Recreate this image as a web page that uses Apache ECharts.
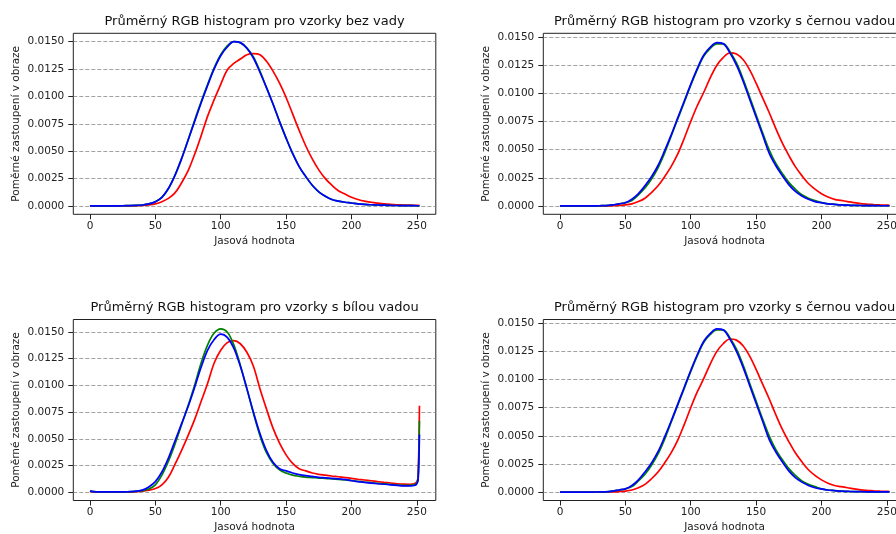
<!DOCTYPE html>
<html>
<head>
<meta charset="utf-8">
<title>Průměrný RGB histogram</title>
<script src="https://cdn.jsdelivr.net/npm/echarts@6/dist/echarts.min.js"></script>
<style>
html, body { margin: 0; padding: 0; background: #fff; }
#chart { width: 896px; height: 534px; }
</style>
</head>
<body>
<div id="chart"></div>
<script>
// jasove hodnoty
var xs = [0,5,10,15,20,25,30,35,40,45,50,55,60,65,70,75,80,85,90,95,100,105,110,115,120,125,130,135,140,145,
  150,155,160,165,170,175,180,185,190,195,200,205,210,215,220,225,230,235,240,245,250,252];
var xsBila = [0,5,10,15,20,25,30,35,40,45,50,55,60,65,70,75,80,85,90,95,100,105,110,115,120,125,130,135,140,145,
  150,155,160,165,170,175,180,185,190,195,200,205,210,215,220,225,230,235,240,245,248,250,251,252];
var xTicks = [0, 50, 100, 150, 200, 250];
var yTicks = [0, 0.0025, 0.005, 0.0075, 0.01, 0.0125, 0.015];

// vzorky bez vady
var redBez = [0.00002,0.00002,0.00002,0.00002,0.00002,0.00002,0.00002,0.00003,0.00005,0.0001,
  0.0002,0.0004,0.0007,0.0012,0.0021,0.0032,0.0047,0.0064,0.0082,0.0097,
  0.0111,0.0124,0.0130,0.0134,0.0138,0.0139,0.0138,0.0132,0.0123,0.0112,
  0.0099,0.0084,0.0069,0.0055,0.0043,0.0033,0.0025,0.0019,0.0014,0.0011,
  0.0008,0.0006,0.00045,0.00035,0.00027,0.0002,0.00015,0.00012,0.0001,0.00008,
  0.00006,0.00005];
var greenBez = [0.00002,0.00002,0.00002,0.00002,0.00002,0.00003,0.00004,0.00006,0.0001,0.0002,
  0.0004,0.0008,0.0016,0.0028,0.0043,0.0060,0.0078,0.0095,0.0111,0.0126,
  0.0138,0.0146,0.0150,0.0149,0.0144,0.0136,0.0123,0.0108,0.0093,0.0077,
  0.0062,0.0048,0.0036,0.0027,0.0019,0.0013,0.0009,0.0006,0.00045,0.00035,
  0.00028,0.0002,0.00015,0.00012,0.0001,0.00008,0.00006,0.00005,0.00004,0.00004,
  0.00003,0.00003];
var blueBez = [0.00002,0.00002,0.00002,0.00002,0.00002,0.00003,0.00004,0.00006,0.0001,0.0002,
  0.0004,0.0008,0.0016,0.0028,0.0043,0.0060,0.0077,0.0094,0.0110,0.0125,
  0.0137,0.0145,0.0150,0.0149,0.0144,0.0135,0.0122,0.0108,0.0093,0.0077,
  0.0062,0.0048,0.0036,0.0027,0.0019,0.0013,0.0009,0.0006,0.00045,0.00035,
  0.00028,0.0002,0.00015,0.00012,0.0001,0.00008,0.00006,0.00005,0.00004,0.00004,
  0.00003,0.00003];

// vzorky s cernou vadou
var redCerna = [0.00001,0.00001,0.00001,0.00001,0.00001,0.00001,0.00001,0.00001,0.00003,0.00006,
  0.0001,0.0002,0.0004,0.0007,0.0012,0.0018,0.0026,0.0035,0.0046,0.0060,
  0.0075,0.0089,0.0101,0.0114,0.0125,0.0132,0.0136,0.0135,0.0130,0.0121,
  0.0109,0.0096,0.0083,0.0069,0.0056,0.0045,0.0035,0.0027,0.0020,0.0015,
  0.0011,0.0008,0.0006,0.0005,0.0004,0.0003,0.00022,0.00017,0.00013,0.0001,
  0.00008,0.00007];
var greenCerna = [0.00002,0.00002,0.00002,0.00002,0.00002,0.00002,0.00003,0.00004,0.0001,0.0002,
  0.0003,0.0005,0.0010,0.0016,0.0024,0.0034,0.0047,0.0062,0.0077,0.0092,
  0.0107,0.0121,0.0133,0.0140,0.0144,0.0144,0.0137,0.0127,0.0113,0.0097,
  0.0081,0.0065,0.0050,0.0038,0.0029,0.0021,0.0015,0.0010,0.0007,0.0005,
  0.0003,0.0002,0.00015,0.0001,0.00008,0.00006,0.00005,0.00004,0.00004,0.00003,
  0.00003,0.00003];
var blueCerna = [0.00002,0.00002,0.00002,0.00002,0.00002,0.00002,0.00003,0.00004,0.0001,0.0002,
  0.0003,0.0006,0.0011,0.0018,0.0026,0.0036,0.0049,0.0063,0.0078,0.0093,
  0.0108,0.0122,0.0134,0.0141,0.0145,0.0144,0.0136,0.0125,0.0111,0.0095,
  0.0079,0.0063,0.0047,0.0036,0.0027,0.0019,0.0013,0.0009,0.0006,0.0004,
  0.0003,0.0002,0.00015,0.0001,0.00008,0.00006,0.00005,0.00004,0.00004,0.00003,
  0.00003,0.00003];

// vzorky s bilou vadou
var redBila = [0.00005,0.00002,0.00002,0.00002,0.00002,0.00002,0.00002,0.00005,0.0001,0.0002,
  0.00035,0.0007,0.0014,0.0026,0.0039,0.0053,0.0068,0.0085,0.0102,0.0121,
  0.0133,0.0140,0.0142,0.0139,0.0131,0.0118,0.0097,0.0078,0.0060,0.0046,
  0.0035,0.0027,0.0022,0.0020,0.0018,0.00168,0.0016,0.00152,0.00145,0.00138,
  0.0013,0.00122,0.00115,0.00108,0.001,0.00093,0.00087,0.0008,0.00076,0.00075,
  0.0008,0.001,0.0015,0.0081];
var greenBila = [0.0001,0.00003,0.00003,0.00003,0.00003,0.00003,0.00005,0.00008,0.00015,0.0003,
  0.0007,0.0016,0.0029,0.0045,0.0063,0.0081,0.0100,0.0121,0.0138,0.0149,
  0.0153,0.0150,0.0138,0.0119,0.0097,0.0074,0.0053,0.0037,0.0027,0.0021,
  0.0018,0.0016,0.0015,0.00142,0.00138,0.00133,0.0013,0.00125,0.0012,0.00115,
  0.0011,0.00103,0.00096,0.0009,0.00083,0.00078,0.00073,0.00068,0.00065,0.00065,
  0.0007,0.0009,0.0013,0.0067];
var blueBila = [0.0001,0.00003,0.00003,0.00003,0.00003,0.00003,0.00006,0.0001,0.0002,0.0005,
  0.0010,0.0019,0.0032,0.0048,0.0064,0.0080,0.0098,0.0117,0.0133,0.0143,
  0.0148,0.0145,0.0135,0.0118,0.0097,0.0075,0.0055,0.0039,0.0028,0.0022,
  0.0020,0.0018,0.00165,0.00155,0.00148,0.0014,0.00135,0.0013,0.00125,0.0012,
  0.00108,0.001,0.00092,0.00086,0.0008,0.00075,0.0007,0.00065,0.0006,0.0006,
  0.00063,0.0008,0.0012,0.0054];

var panels = [
  { title: 'Průměrný RGB histogram pro vzorky bez vady', x: xs, r: redBez, g: greenBez, b: blueBez,
    yMin: -0.00075, yMax: 0.01575, left: 73.3, top: 33.3 },
  { title: 'Průměrný RGB histogram pro vzorky s černou vadou', x: xs, r: redCerna, g: greenCerna, b: blueCerna,
    yMin: -0.00073, yMax: 0.01533, left: 543.3, top: 33.3 },
  { title: 'Průměrný RGB histogram pro vzorky s bílou vadou', x: xsBila, r: redBila, g: greenBila, b: blueBila,
    yMin: -0.00077, yMax: 0.01617, left: 73.3, top: 319.5 },
  { title: 'Průměrný RGB histogram pro vzorky s černou vadou', x: xs, r: redCerna, g: greenCerna, b: blueCerna,
    yMin: -0.00073, yMax: 0.01533, left: 543.3, top: 319.5 }
];

var W = 362.5, H = 181;
var FONT = 'DejaVu Sans';
var grids = [], xAxes = [], yAxes = [], series = [], graphics = [];

function pairs(x, v) {
  return x.map(function (xv, k) { return [xv, v[k]]; });
}

panels.forEach(function (p, i) {
  grids.push({
    left: p.left, top: p.top, width: W, height: H,
    show: true, borderColor: '#222', borderWidth: 1, backgroundColor: 'transparent',
    containLabel: false, outerBoundsMode: 'none'
  });
  xAxes.push({
    type: 'value', gridIndex: i, min: -12.75, max: 264.5,
    name: 'Jasová hodnota', nameLocation: 'middle', nameGap: 21,
    nameTextStyle: { fontFamily: FONT, fontSize: 10.5, color: '#222' },
    axisLine: { show: false, onZero: false },
    axisTick: { show: true, length: 5, customValues: xTicks, lineStyle: { color: '#222', width: 1 } },
    axisLabel: { customValues: xTicks, margin: 6, fontFamily: FONT, fontSize: 10.5, color: '#222' },
    splitLine: { show: false }
  });
  yAxes.push({
    type: 'value', gridIndex: i, min: p.yMin, max: p.yMax,
    name: 'Poměrné zastoupení v obraze', nameLocation: 'middle', nameGap: 52,
    nameTextStyle: { fontFamily: FONT, fontSize: 10.5, color: '#222' },
    axisLine: { show: false, onZero: false },
    axisTick: { show: true, length: 5, customValues: yTicks, lineStyle: { color: '#222', width: 1 } },
    axisLabel: {
      customValues: yTicks, margin: 9, fontFamily: FONT, fontSize: 10.5, color: '#222',
      formatter: function (v) { return v.toFixed(4); }
    },
    splitLine: { show: true, lineStyle: { color: '#8a8a8a', width: 0.8, type: [4, 2] } }
  });
  [['R', p.r, '#ff0000'], ['G', p.g, '#008000'], ['B', p.b, '#0000ff']].forEach(function (s) {
    series.push({
      type: 'line', name: s[0], xAxisIndex: i, yAxisIndex: i,
      data: pairs(p.x, s[1]), showSymbol: false, smooth: 0.35,
      lineStyle: { color: s[2], width: 1.7 }, itemStyle: { color: s[2] }
    });
  });
  graphics.push({
    type: 'text', x: p.left + W / 2, y: p.top - 11.5,
    style: { text: p.title, textAlign: 'center', textVerticalAlign: 'middle',
      font: '13px "' + FONT + '"', fill: '#111' }
  });
});

var chart = echarts.init(document.getElementById('chart'));
chart.setOption({
  animation: false,
  backgroundColor: '#fff',
  grid: grids,
  xAxis: xAxes,
  yAxis: yAxes,
  series: series,
  graphic: graphics
});
</script>
</body>
</html>
